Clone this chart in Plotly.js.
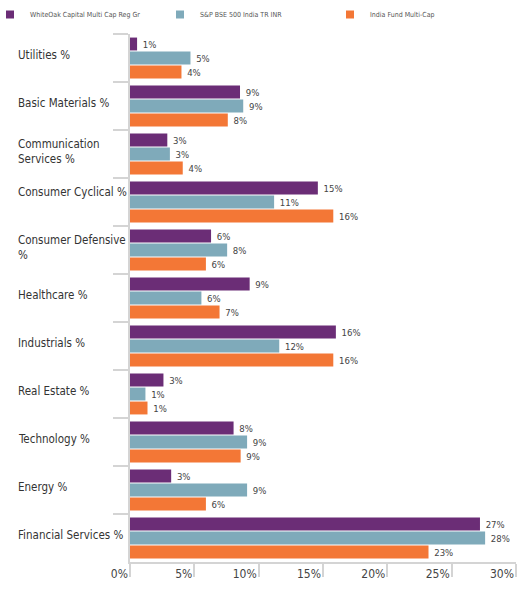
<!DOCTYPE html>
<html>
<head>
<meta charset="utf-8">
<script src="https://cdn.plot.ly/plotly-3.0.1.min.js"></script>
<style>html,body{margin:0;padding:0;background:#fff;}#chart{width:524px;height:590px;}</style>
</head>
<body>
<div id="chart"></div>
<script>
const categories = ["Utilities %", "Basic Materials %", "Communication Services %", "Consumer Cyclical %",
  "Consumer Defensive %", "Healthcare %", "Industrials %", "Real Estate %", "Technology %", "Energy %",
  "Financial Services %"];
const categoryLabels = ["Utilities %", "Basic Materials %", "Communication<br>Services %", "Consumer Cyclical %",
  "Consumer Defensive<br>%", "Healthcare %", "Industrials %", "Real Estate %", "Technology %", "Energy %",
  "Financial Services %"];
const seriesNames = ["WhiteOak Capital Multi Cap Reg Gr", "S&P BSE 500 India TR INR", "India Fund Multi-Cap"];
const whiteOak = [0.55, 8.55, 2.9, 14.6, 6.3, 9.3, 16.0, 2.6, 8.05, 3.2, 27.2];
const bse500   = [4.7, 8.8, 3.1, 11.2, 7.55, 5.55, 11.6, 1.2, 9.1, 9.1, 27.6];
const indiaFund = [4.0, 7.6, 4.1, 15.8, 5.9, 6.96, 15.8, 1.36, 8.6, 5.9, 23.2];
const seriesValues = [whiteOak, bse500, indiaFund];
const colors = ["#6B2D76", "#7FAABA", "#F37736"];
const xTicks = [0, 5, 10, 15, 20, 25, 30];

const FONT = "'DejaVu Sans Condensed', 'Liberation Sans Narrow', Arial, sans-serif";

const traces = [];
seriesValues.forEach((vals, i) => {
  traces.push({
    type: "bar", orientation: "h", name: seriesNames[i],
    x: vals, y: categories,
    marker: {color: colors[i]},
    texttemplate: "\u00a0%{x:.0f}%", textposition: "outside",
    textfont: {family: FONT, size: 9.5, color: "#444", stretch: "condensed"},
    constraintext: "none", cliponaxis: false,
    showlegend: false, hoverinfo: "skip"
  });
});
seriesNames.forEach((n, i) => {
  traces.push({
    type: "scatter", mode: "markers", name: n, x: [null], y: [null],
    marker: {symbol: "square", size: 8, color: colors[i]},
    showlegend: true, hoverinfo: "skip"
  });
});

const plotW = 524 - 130 - 8;
const plotH = 590 - 34 - 28;
const annotations = categories.map((c, i) => ({
  xref: "paper", yref: "y", x: -(130 - 16) / plotW, y: c,
  xanchor: "left", yanchor: "middle", align: "left",
  text: categoryLabels[i], showarrow: false,
  yshift: c === "Consumer Cyclical %" ? 10 : 3,
  font: {family: FONT, size: 11.5, color: "#333", stretch: "condensed"}
}));

const layout = {
  width: 524, height: 590,
  margin: {l: 130, r: 8, t: 34, b: 28, autoexpand: false},
  paper_bgcolor: "#fff", plot_bgcolor: "#fff",
  barmode: "group", bargap: 0.125, bargroupgap: 0.08,
  showlegend: true,
  legend: {
    orientation: "h",
    x: -140 / plotW, xanchor: "left", y: 1 + 5 / plotH, yanchor: "bottom",
    entrywidth: 125, entrywidthmode: "pixels", itemwidth: 30,
    font: {family: FONT, size: 7, color: "#555", stretch: "condensed"}, bgcolor: "rgba(0,0,0,0)",
    tracegroupgap: 0
  },
  xaxis: {
    range: [0, 30], tickvals: xTicks, ticktext: xTicks.map(v => v + "%"),
    showgrid: false, zeroline: false,
    showline: true, linecolor: "#d4d4d4", linewidth: 2,
    ticks: "outside", ticklen: 13, tickwidth: 2, tickcolor: "#d4d4d4",
    ticklabelposition: "outside left",
    tickfont: {family: FONT, size: 12, color: "#444", stretch: "condensed"}, fixedrange: true
  },
  yaxis: {
    type: "category", autorange: "reversed", showticklabels: false,
    showgrid: false, zeroline: false,
    showline: true, linecolor: "#d4d4d4", linewidth: 2,
    ticks: "outside", tickson: "boundaries", ticklen: 15, tickwidth: 2, tickcolor: "#d4d4d4",
    fixedrange: true
  },
  annotations: annotations
};

Plotly.newPlot("chart", traces, layout, {displayModeBar: false, staticPlot: true});
</script>
</body>
</html>
